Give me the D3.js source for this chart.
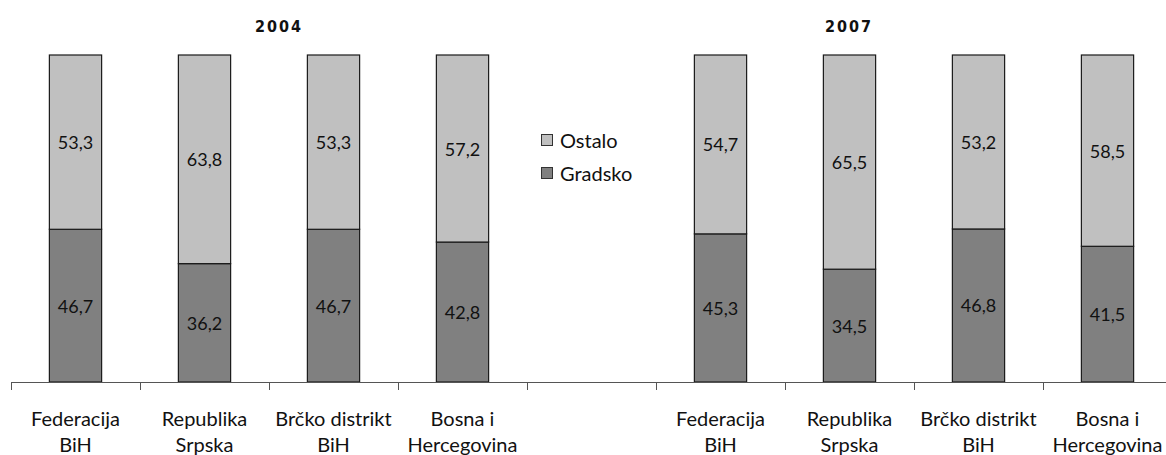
<!DOCTYPE html>
<html>
<head>
<meta charset="utf-8">
<script src="https://d3js.org/d3.v7.min.js"></script>
<style>
body { margin: 0; background: #fff; }
text { font-family: Lato, "Open Sans", sans-serif; fill: #111; }
</style>
</head>
<body>
<div id="chart"></div>
<script>
var width = 1166;
var height = 455;

// categories (empty slot between the two years)
var categories = ["f04", "r04", "b04", "h04", "gap", "f07", "r07", "b07", "h07"];
var labels = [
	["Federacija", "BiH"], ["Republika", "Srpska"], ["Brčko distrikt", "BiH"], ["Bosna i", "Hercegovina"],
	["", ""],
	["Federacija", "BiH"], ["Republika", "Srpska"], ["Brčko distrikt", "BiH"], ["Bosna i", "Hercegovina"]
];
var gradsko = [46.7, 36.2, 46.7, 42.8, null, 45.3, 34.5, 46.8, 41.5];
var ostalo = [53.3, 63.8, 53.3, 57.2, null, 54.7, 65.5, 53.2, 58.5];
var years = ["2004", "2007"];
var seriesNames = ["Ostalo", "Gradsko"];
var colors = { "Ostalo": "#c0c0c0", "Gradsko": "#808080" };

var svg = d3.select("#chart").append("svg")
	.attr("width", width)
	.attr("height", height);

var x = d3.scaleBand()
	.domain(categories)
	.range([11, 1172])
	.paddingInner(0)
	.paddingOuter(0);

var y = d3.scaleLinear()
	.domain([0, 100])
	.range([382, 55]);

var barW = x.bandwidth() * 0.405;
var fmt = function(v) { return d3.format(".1f")(v).replace(".", ","); };

var rows = categories.map(function(c, i) {
	return { cat: c, g: gradsko[i], o: ostalo[i] };
}).filter(function(d) { return d.g != null; });

var bars = svg.append("g");

rows.forEach(function(d) {
	var cx = x(d.cat) + x.bandwidth() / 2;
	// Gradsko bottom
	bars.append("rect")
		.attr("x", cx - barW / 2)
		.attr("y", y(d.g))
		.attr("width", barW)
		.attr("height", y(0) - y(d.g))
		.attr("fill", colors.Gradsko)
		.attr("stroke", "#1a1a1a")
		.attr("stroke-width", 1.2);
	// Ostalo on top
	bars.append("rect")
		.attr("x", cx - barW / 2)
		.attr("y", y(d.g + d.o))
		.attr("width", barW)
		.attr("height", y(d.g) - y(d.g + d.o))
		.attr("fill", colors.Ostalo)
		.attr("stroke", "#1a1a1a")
		.attr("stroke-width", 1.2);

	bars.append("text")
		.attr("x", cx)
		.attr("y", (y(0) + y(d.g)) / 2)
		.attr("text-anchor", "middle")
		.attr("dominant-baseline", "central")
		.style("font-size", "18px")
		.text(fmt(d.g));
	bars.append("text")
		.attr("x", cx)
		.attr("y", (y(d.g) + y(d.g + d.o)) / 2)
		.attr("text-anchor", "middle")
		.attr("dominant-baseline", "central")
		.style("font-size", "18px")
		.text(fmt(d.o));
});

// axis line and ticks at category boundaries
var axisG = svg.append("g");
axisG.append("line")
	.attr("x1", 11).attr("x2", width)
	.attr("y1", y(0) + 0.5).attr("y2", y(0) + 0.5)
	.attr("stroke", "#555").attr("stroke-width", 1);

var bounds = categories.map(function(c) { return x(c); });
axisG.selectAll("line.tick")
	.data(bounds)
	.enter().append("line")
	.attr("class", "tick")
	.attr("x1", function(d) { return Math.round(d) + 0.5; })
	.attr("x2", function(d) { return Math.round(d) + 0.5; })
	.attr("y1", y(0))
	.attr("y2", y(0) + 8)
	.attr("stroke", "#555");

// category labels
categories.forEach(function(c, i) {
	var cx = x(c) + x.bandwidth() / 2;
	var t = axisG.append("text")
		.attr("x", cx)
		.attr("y", 426)
		.attr("text-anchor", "middle")
		.style("font-size", "20px");
	t.append("tspan").attr("x", cx).text(labels[i][0]);
	t.append("tspan").attr("x", cx).attr("dy", 26).text(labels[i][1]);
});

// year titles
var titleX = [278, 848];
years.forEach(function(yr, i) {
	svg.append("text")
		.attr("x", titleX[i] + 1)
		.attr("y", 32)
		.attr("text-anchor", "middle")
		.style("font-family", "'Liberation Sans Narrow', 'DejaVu Sans Condensed', sans-serif")
		.style("font-size", "16px")
		.style("font-weight", "bold")
		.style("letter-spacing", "2px")
		.text(yr);
});

// legend
var legend = svg.append("g").attr("transform", "translate(541,134)");
seriesNames.forEach(function(s, i) {
	legend.append("rect")
		.attr("x", 0.5)
		.attr("y", i * 33 + 0.5)
		.attr("width", 11)
		.attr("height", 11)
		.attr("fill", colors[s])
		.attr("stroke", "#333");
	legend.append("text")
		.attr("x", 19)
		.attr("y", i * 33 + 6)
		.attr("dominant-baseline", "central")
		.style("font-size", "20px")
		.text(s);
});
</script>
</body>
</html>
